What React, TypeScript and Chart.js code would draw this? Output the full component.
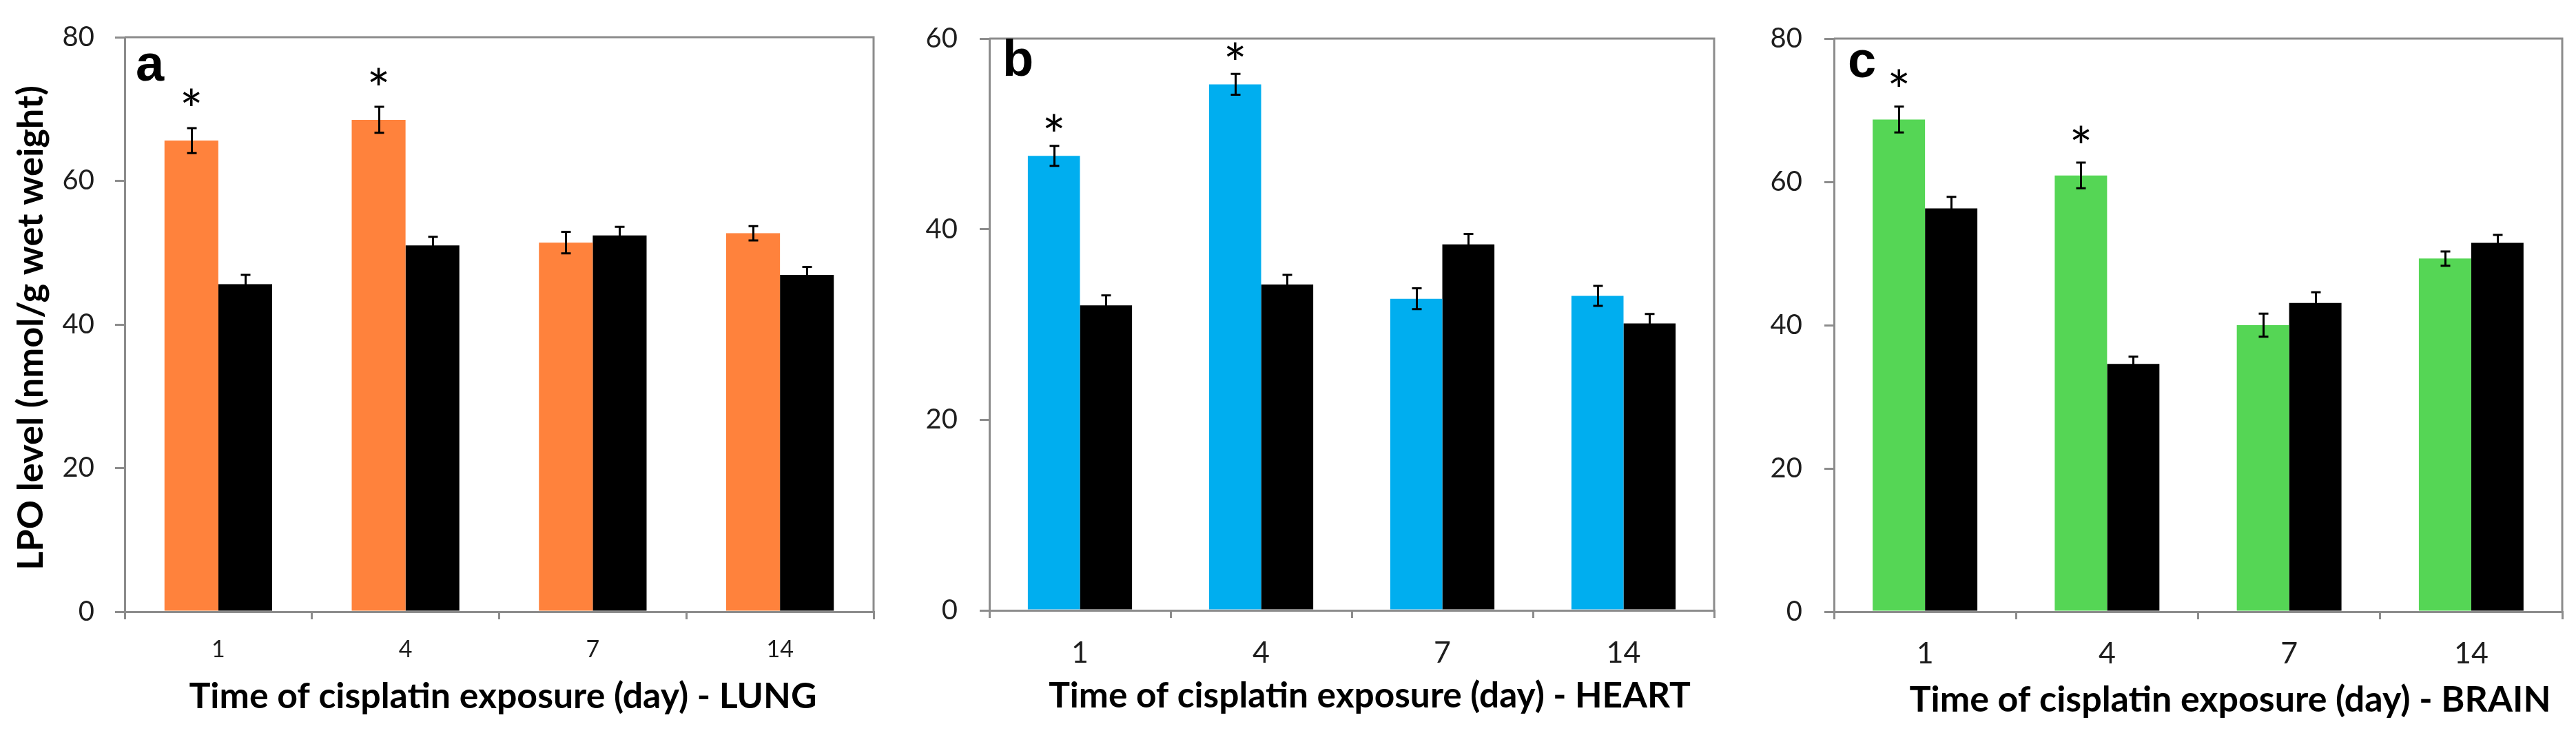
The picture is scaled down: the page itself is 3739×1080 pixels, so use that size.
import React, { useEffect, useRef } from "react";
import { Chart, registerables } from "chart.js";

Chart.register(...registerables);

// ---------- data ----------
const days = ["1", "4", "7", "14"];

const lungTreated = [65.6, 68.5, 51.4, 52.7];
const lungTreatedErr = [1.75, 1.8, 1.5, 1.0];
const lungControl = [45.6, 51.0, 52.4, 46.9];
const lungControlErr = [1.3, 1.2, 1.2, 1.1];
const lungSignificant = [true, true, false, false];

const heartTreated = [47.7, 55.2, 32.7, 33.0];
const heartTreatedErr = [1.05, 1.1, 1.1, 1.05];
const heartControl = [32.0, 34.2, 38.4, 30.1];
const heartControlErr = [1.05, 1.0, 1.1, 1.0];
const heartSignificant = [true, true, false, false];

const brainTreated = [68.7, 60.9, 40.0, 49.3];
const brainTreatedErr = [1.8, 1.8, 1.6, 1.0];
const brainControl = [56.3, 34.6, 43.1, 51.5];
const brainControlErr = [1.6, 1.0, 1.5, 1.1];
const brainSignificant = [true, true, false, false];

const lungYMax = 80;
const heartYMax = 60;
const brainYMax = 80;
const yStep = 20;

const yTitle = "LPO level (nmol/g wet weight)";
const lungTitle = "Time of cisplatin exposure (day) - LUNG";
const heartTitle = "Time of cisplatin exposure (day) - HEART";
const brainTitle = "Time of cisplatin exposure (day) - BRAIN";

// ---------- style ----------
const H = 1080;
const GRAY = "#8c8c8c";
const TEXT = "#1e1e1e";

type PanelCfg = {
  letter: string;
  title: string;
  treated: number[];
  treatedErr: number[];
  control: number[];
  controlErr: number[];
  significant: boolean[];
  yMax: number;
  color: string;
  left: number;
  width: number;
  yW: number;
  padRight: number;
  padTop: number;
  xH: number;
  letterX: number;
  letterY: number;
  titleCx: number;
  titleBase: number;
  titleWidth: number;
  showYTitle: boolean;
  xTickSize: number;
  xTickPad: number;
  yTickPad: number;
  starGap: number;
};

const panels: PanelCfg[] = [
  {
    letter: "a", title: lungTitle,
    treated: lungTreated, treatedErr: lungTreatedErr,
    control: lungControl, controlErr: lungControlErr,
    significant: lungSignificant, yMax: lungYMax, color: "#ff823c",
    left: 0, width: 1300, yW: 181, padRight: 32, padTop: 52, xH: 192,
    letterX: 197, letterY: 117, titleCx: 730, titleBase: 1028, titleWidth: 911,
    showYTitle: true, xTickSize: 34, xTickPad: 24, yTickPad: 30, starGap: 43,
  },
  {
    letter: "b", title: heartTitle,
    treated: heartTreated, treatedErr: heartTreatedErr,
    control: heartControl, controlErr: heartControlErr,
    significant: heartSignificant, yMax: heartYMax, color: "#00aeef",
    left: 1300, width: 1200, yW: 136, padRight: 12, padTop: 41, xH: 194,
    letterX: 155, letterY: 110, titleCx: 688, titleBase: 1027, titleWidth: 932,
    showYTitle: false, xTickSize: 43, xTickPad: 25, yTickPad: 32, starGap: 32,
  },
  {
    letter: "c", title: brainTitle,
    treated: brainTreated, treatedErr: brainTreatedErr,
    control: brainControl, controlErr: brainControlErr,
    significant: brainSignificant, yMax: brainYMax, color: "#55d655",
    left: 2500, width: 1239, yW: 162, padRight: 20, padTop: 52, xH: 192,
    letterX: 182, letterY: 112, titleCx: 737, titleBase: 1033, titleWidth: 931,
    showYTitle: false, xTickSize: 43, xTickPad: 24, yTickPad: 32, starGap: 40,
  },
];

function fitFont(ctx: CanvasRenderingContext2D, text: string, target: number, weight: string, family: string) {
  ctx.font = `${weight} 100px ${family}`;
  const w = ctx.measureText(text).width;
  const size = (100 * target) / w;
  return `${weight} ${size.toFixed(2)}px ${family}`;
}

function makeOverlay(cfg: PanelCfg) {
  return {
    id: "overlay_" + cfg.letter,
    afterDatasetsDraw(chart: any) {
      const ctx: CanvasRenderingContext2D = chart.ctx;
      const { left, right, top, bottom } = chart.chartArea;
      const yScale = chart.scales.y;
      ctx.save();
      // frame top & right
      ctx.strokeStyle = GRAY;
      ctx.lineWidth = 3;
      ctx.beginPath();
      ctx.moveTo(left, top);
      ctx.lineTo(right, top);
      ctx.lineTo(right, bottom);
      ctx.stroke();

      // error bars
      const sets = [
        { vals: cfg.treated, errs: cfg.treatedErr },
        { vals: cfg.control, errs: cfg.controlErr },
      ];
      ctx.strokeStyle = "#000";
      ctx.lineWidth = 3;
      sets.forEach((s, di) => {
        const meta = chart.getDatasetMeta(di);
        meta.data.forEach((el: any, j: number) => {
          const x = Math.round(el.x) + 0.5;
          const yT = yScale.getPixelForValue(s.vals[j] + s.errs[j]);
          const yB = yScale.getPixelForValue(s.vals[j] - s.errs[j]);
          ctx.beginPath();
          ctx.moveTo(x, yT);
          ctx.lineTo(x, yB);
          ctx.moveTo(x - 7, yT);
          ctx.lineTo(x + 7, yT);
          ctx.moveTo(x - 7, yB);
          ctx.lineTo(x + 7, yB);
          ctx.stroke();
        });
      });

      // asterisks (glyph centre placed starGap above the error-bar top)
      const meta0 = chart.getDatasetMeta(0);
      ctx.fillStyle = "#000";
      const starSize = 80;
      ctx.font = `${starSize}px Lato`;
      ctx.textAlign = "center";
      ctx.textBaseline = "alphabetic";
      cfg.significant.forEach((sig, j) => {
        if (!sig) return;
        const el: any = meta0.data[j];
        const yT = yScale.getPixelForValue(cfg.treated[j] + cfg.treatedErr[j]);
        const centre = yT - cfg.starGap;
        ctx.fillText("*", el.x, centre + 0.57 * starSize);
      });

      // panel letter
      ctx.font = "bold 74px 'Liberation Sans'";
      ctx.textAlign = "left";
      ctx.textBaseline = "alphabetic";
      ctx.fillText(cfg.letter, cfg.letterX, cfg.letterY);

      // x title
      ctx.font = fitFont(ctx, cfg.title, cfg.titleWidth, "bold", "Lato");
      ctx.textAlign = "center";
      ctx.textBaseline = "alphabetic";
      ctx.fillStyle = "#000";
      ctx.fillText(cfg.title, cfg.titleCx, cfg.titleBase);

      // y title
      if (cfg.showYTitle) {
        ctx.font = fitFont(ctx, yTitle, 704, "bold", "Lato");
        ctx.translate(62, 476);
        ctx.rotate(-Math.PI / 2);
        ctx.textAlign = "center";
        ctx.textBaseline = "alphabetic";
        ctx.fillText(yTitle, 0, 0);
      }
      ctx.restore();
    },
  };
}

function Panel({ cfg }: { cfg: PanelCfg }) {
  const ref = useRef<HTMLCanvasElement>(null);
  useEffect(() => {
    const chart = new Chart(ref.current as HTMLCanvasElement, {
      type: "bar",
      data: {
        labels: days,
        datasets: [
          {
            data: cfg.treated,
            backgroundColor: cfg.color,
            borderWidth: 0,
            categoryPercentage: 0.575,
            barPercentage: 1,
          },
          {
            data: cfg.control,
            backgroundColor: "#000000",
            borderWidth: 0,
            categoryPercentage: 0.575,
            barPercentage: 1,
          },
        ],
      },
      options: {
        animation: false,
        responsive: false,
        devicePixelRatio: 1,
        layout: { padding: { left: 0, right: cfg.padRight, top: cfg.padTop, bottom: 0 } },
        plugins: { legend: { display: false }, tooltip: { enabled: false }, title: { display: false } },
        scales: {
          x: {
            grid: {
              display: true,
              drawOnChartArea: false,
              drawTicks: true,
              tickLength: 11,
              color: GRAY,
              lineWidth: 3,
              offset: true,
            },
            border: { display: true, color: GRAY, width: 3 },
            ticks: {
              font: { family: "Lato", size: cfg.xTickSize },
              color: TEXT,
              padding: cfg.xTickPad,
              maxRotation: 0,
            },
            afterFit: (s: any) => {
              s.height = cfg.xH;
            },
          },
          y: {
            min: 0,
            max: cfg.yMax,
            grid: {
              display: true,
              drawOnChartArea: false,
              drawTicks: true,
              tickLength: 14,
              color: GRAY,
              lineWidth: 3,
            },
            border: { display: true, color: GRAY, width: 3 },
            ticks: {
              stepSize: yStep,
              font: { family: "Lato", size: 40 },
              color: TEXT,
              padding: cfg.yTickPad,
            },
            afterFit: (s: any) => {
              s.width = cfg.yW;
            },
          },
        },
      },
      plugins: [makeOverlay(cfg)],
    } as any);
    return () => chart.destroy();
  }, [cfg]);
  return (
    <canvas
      ref={ref}
      width={cfg.width}
      height={H}
      style={{ position: "absolute", left: cfg.left, top: 0, width: cfg.width, height: H }}
    />
  );
}

export default function App() {
  return (
    <div style={{ position: "absolute", left: 0, top: 0, width: 3739, height: H, background: "#fff" }}>
      {panels.map((p) => (
        <Panel key={p.letter} cfg={p} />
      ))}
    </div>
  );
}
